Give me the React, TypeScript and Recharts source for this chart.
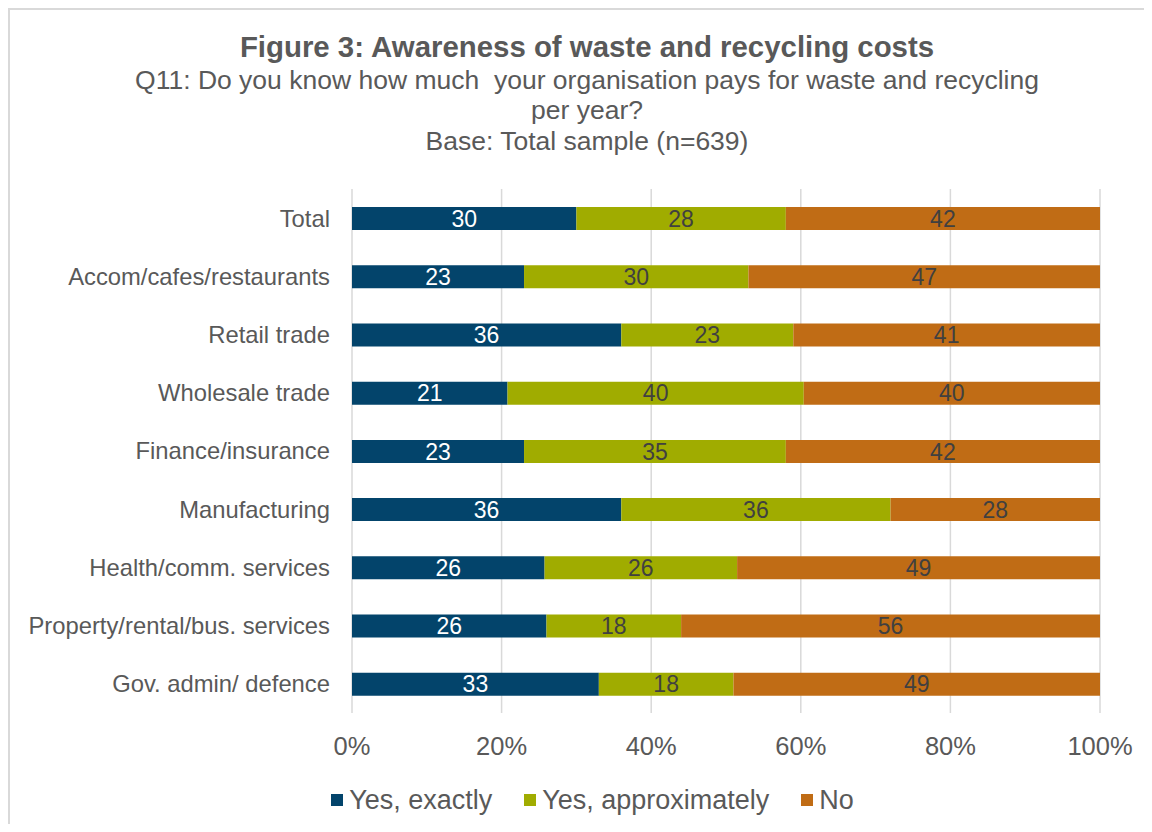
import React from 'react';
import { BarChart, Bar, XAxis, YAxis, CartesianGrid, LabelList } from 'recharts';

const categories = [
  'Total',
  'Accom/cafes/restaurants',
  'Retail trade',
  'Wholesale trade',
  'Finance/insurance',
  'Manufacturing',
  'Health/comm. services',
  'Property/rental/bus. services',
  'Gov. admin/ defence',
];
const yesExactly = [30, 23, 36, 21, 23, 36, 26, 26, 33];
const yesApprox = [28, 30, 23, 40, 35, 36, 26, 18, 18];
const noValues = [42, 47, 41, 40, 42, 28, 49, 56, 49];
const xTicks = [0, 0.2, 0.4, 0.6, 0.8, 1];
const seriesNames = ['Yes, exactly', 'Yes, approximately', 'No'];
const seriesColors = ['#03446B', '#A0AC00', '#C06C15'];
const titleText = 'Figure 3: Awareness of waste and recycling costs';
const subtitleLines = [
  'Q11: Do you know how much  your organisation pays for waste and recycling',
  'per year?',
  'Base: Total sample (n=639)',
];

const data = categories.map((name, i) => ({
  name,
  yes: yesExactly[i],
  approx: yesApprox[i],
  no: noValues[i],
}));

const FONT = '"Liberation Sans", Arial, sans-serif';
const TEXT = '#595959';

export default function App() {
  return (
    <div
      style={{
        position: 'relative',
        width: 1136,
        height: 816,
        borderTop: '2px solid #d9d9d9',
        borderLeft: '2px solid #d9d9d9',
        boxSizing: 'border-box',
        overflow: 'hidden',
        fontFamily: FONT,
        background: '#fff',
      }}
    >
      <div
        style={{
          position: 'absolute',
          left: 77,
          width: 1000,
          top: 20,
          height: 34,
          lineHeight: '34px',
          fontSize: 29.4,
          fontWeight: 'bold',
          color: TEXT,
          textAlign: 'center',
          whiteSpace: 'pre',
        }}
      >
        {titleText}
      </div>
      <div
        style={{
          position: 'absolute',
          left: 77,
          width: 1000,
          top: 54.75,
          lineHeight: '30.5px',
          fontSize: 26.5,
          color: TEXT,
          textAlign: 'center',
          whiteSpace: 'pre',
        }}
      >
        {subtitleLines.map((l) => (
          <div key={l}>{l}</div>
        ))}
      </div>
      <div style={{ position: 'absolute', left: 0, top: 0 }}>
        <BarChart
          width={1134}
          height={814}
          data={data}
          layout="vertical"
          stackOffset="expand"
          margin={{ top: 179, right: 44, bottom: 71, left: 10 }}
        >
          <CartesianGrid horizontal={false} stroke="#d9d9d9" strokeWidth={1.5} />
          <XAxis
            type="number"
            domain={[0, 1]}
            ticks={xTicks}
            tickFormatter={(v: number) => `${Math.round(v * 100)}%`}
            axisLine={false}
            tickLine={false}
            height={40}
            tickMargin={18}
            tick={{ fill: TEXT, fontSize: 25.5, fontFamily: FONT }}
            interval={0}
          />
          <YAxis
            type="category"
            dataKey="name"
            width={332}
            axisLine={false}
            tickLine={false}
            tickMargin={16}
            tick={{ fill: TEXT, fontSize: 23.8, fontFamily: FONT }}
            interval={0}
          />
          <Bar dataKey="yes" name={seriesNames[0]} stackId="a" fill={seriesColors[0]} barSize={23} isAnimationActive={false}>
            <LabelList dataKey="yes" position="center" fill="#ffffff" fontSize={23} fontFamily={FONT} />
          </Bar>
          <Bar dataKey="approx" name={seriesNames[1]} stackId="a" fill={seriesColors[1]} barSize={23} isAnimationActive={false}>
            <LabelList dataKey="approx" position="center" fill="#404040" fontSize={23} fontFamily={FONT} />
          </Bar>
          <Bar dataKey="no" name={seriesNames[2]} stackId="a" fill={seriesColors[2]} barSize={23} isAnimationActive={false}>
            <LabelList dataKey="no" position="center" fill="#404040" fontSize={23} fontFamily={FONT} />
          </Bar>
        </BarChart>
      </div>
      <div
        style={{
          position: 'absolute',
          left: 0,
          width: 1165,
          top: 773,
          height: 34,
          display: 'flex',
          alignItems: 'center',
          justifyContent: 'center',
          fontSize: 27,
          color: TEXT,
        }}
      >
        {seriesNames.map((n, i) => (
          <div key={n} style={{ display: 'flex', alignItems: 'center', marginLeft: i === 0 ? 0 : 32 }}>
            <div style={{ width: 12, height: 12, background: seriesColors[i], marginRight: 6 }} />
            <span style={{ whiteSpace: 'pre' }}>{n}</span>
          </div>
        ))}
      </div>
    </div>
  );
}
